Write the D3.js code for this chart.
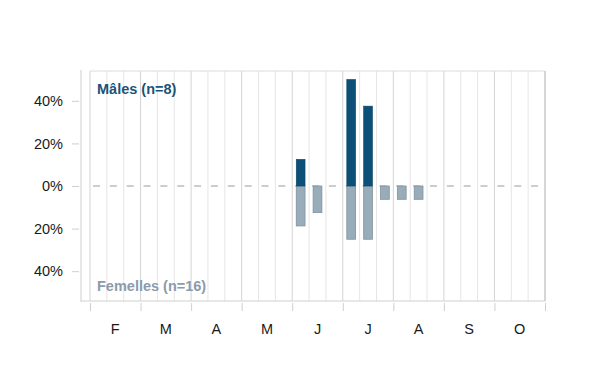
<!DOCTYPE html>
<html>
<head>
<meta charset="utf-8">
<script src="https://cdn.jsdelivr.net/npm/d3@7"></script>
<style>
body{margin:0;background:#fff;font-family:"Liberation Sans",Arial,sans-serif;}
</style>
</head>
<body>
<div id="chart"></div>
<script>
// mois (fév -> oct), chaque mois en 3 décades
var months=['F','M','A','M','J','J','A','S','O'];

// part des captures par décade
var males=[0,0,0, 0,0,0, 0,0,0, 0,0,0, 0.125,0,0, 0.5,0.375,0, 0,0,0, 0,0,0, 0,0,0];
var femelles=[0,0,0, 0,0,0, 0,0,0, 0,0,0, 0.1875,0.125,0, 0.25,0.25,0.0625, 0.0625,0.0625,0, 0,0,0, 0,0,0];

var yTicks=[-0.4,-0.2,0,0.2,0.4];

var W=600,H=390;
var pL=90,pR=545,pT=71,pB=301;

var svg=d3.select('#chart').append('svg').attr('width',W).attr('height',H);

var decades=d3.range(males.length);
var x=d3.scaleBand().domain(decades).range([pL,pR]).paddingInner(0.48).paddingOuter(0.24);
var xGrid=d3.scaleLinear().domain([0,decades.length]).range([pL,pR]);
var xMonth=d3.scaleBand().domain(d3.range(months.length)).range([pL,pR]);
var xEdge=d3.scaleLinear().domain([0,months.length]).range([pL,pR]);
var y=d3.scaleLinear().domain([-0.54,0.54]).range([pB,pT]);

// grille verticale par décade
svg.append('g').selectAll('line').data(d3.range(decades.length+1)).enter().append('line')
	.attr('x1',function(d){return xGrid(d);})
	.attr('x2',function(d){return xGrid(d);})
	.attr('y1',pT).attr('y2',pB)
	.style('stroke',function(d){return d%3==0?'#d4d4d4':'#e6e6e6';})
	.style('stroke-width',1);

// bord haut
svg.append('line').attr('x1',pL).attr('x2',pR).attr('y1',pT).attr('y2',pT)
	.style('stroke','#dcdcdc');
// bord droit
svg.append('line').attr('x1',pR).attr('x2',pR).attr('y1',pT).attr('y2',pB)
	.style('stroke','#c4c4c4');
// bas
svg.append('line').attr('x1',81).attr('x2',pR).attr('y1',pB).attr('y2',pB)
	.style('stroke','#d0d0d0');
// axe y
svg.append('line').attr('x1',81).attr('x2',81).attr('y1',pT-1).attr('y2',pB+1)
	.style('stroke','#cfcfcf');

// ligne zero
svg.append('line').attr('x1',pL+3).attr('x2',pR).attr('y1',y(0)).attr('y2',y(0))
	.style('stroke','#9a9a9a').style('stroke-dasharray','7,9.85');

// barres femelles (vers le bas)
var fem=svg.append('g');
fem.selectAll('rect').data(decades.filter(function(i){return femelles[i]>0;})).enter().append('rect')
	.attr('x',function(i){return x(i);})
	.attr('width',x.bandwidth())
	.attr('y',y(0))
	.attr('height',function(i){return y(-femelles[i])-y(0);})
	.style('fill','#98acb9')
	.style('stroke','#7f929e')
	.style('stroke-width',0.8);

// barres mâles (vers le haut)
var mal=svg.append('g');
mal.selectAll('rect').data(decades.filter(function(i){return males[i]>0;})).enter().append('rect')
	.attr('x',function(i){return x(i);})
	.attr('width',x.bandwidth())
	.attr('y',function(i){return y(males[i]);})
	.attr('height',function(i){return y(0)-y(males[i]);})
	.style('fill','#0c5078')
	.style('stroke','#0a4366')
	.style('stroke-width',0.6);

// axe y
var yAxis=svg.append('g').attr('transform','translate(79,0)')
	.call(d3.axisLeft(y).tickValues(yTicks).tickSize(7).tickPadding(9)
		.tickFormat(function(d){return Math.round(Math.abs(d)*100)+'%';}));
yAxis.select('.domain').remove();
yAxis.selectAll('line').style('stroke','#cfcfcf');
yAxis.selectAll('text').style('font-size','14.5px').style('fill','#1a1a1a')
	.style('font-family','"Liberation Sans",Arial,sans-serif');

// axe x : traits aux limites de mois
var xAxis=svg.append('g').attr('transform','translate(0,'+(pB+2)+')')
	.call(d3.axisBottom(xEdge).tickValues(d3.range(months.length+1)).tickSize(8).tickFormat(''));
xAxis.select('.domain').remove();
xAxis.selectAll('line').style('stroke','#cfcfcf');

// noms des mois
var xLab=svg.append('g').attr('transform','translate(0,'+(pB+23)+')')
	.call(d3.axisBottom(xMonth).tickSize(0).tickPadding(0).tickFormat(function(d){return months[d];}));
xLab.select('.domain').remove();
xLab.selectAll('text').style('font-size','14.5px').style('fill','#1a1a1a')
	.style('font-family','"Liberation Sans",Arial,sans-serif');

// légendes
svg.append('text').attr('x',97).attr('y',94).text('Mâles (n=8)')
	.style('font-size','14.5px').style('font-weight','bold').style('fill','#1a5378');
svg.append('text').attr('x',97).attr('y',291).text('Femelles (n=16)')
	.style('font-size','14.5px').style('font-weight','bold').style('fill','#8b9baa');
</script>
</body>
</html>
